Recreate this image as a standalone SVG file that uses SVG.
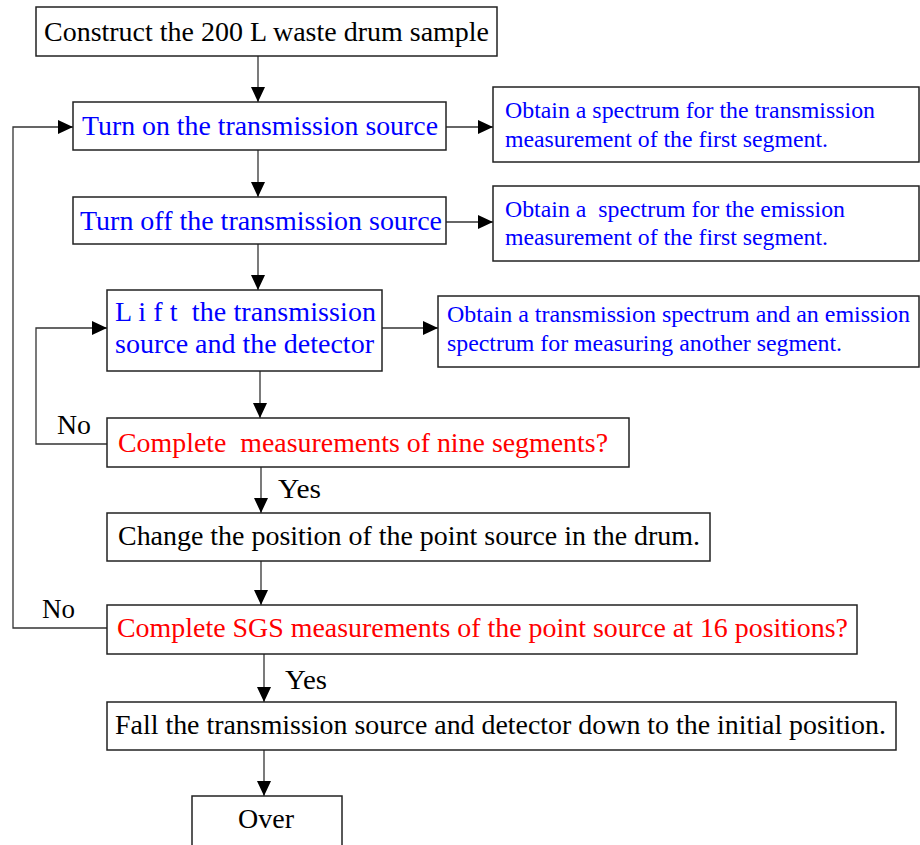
<svg xmlns="http://www.w3.org/2000/svg" width="920" height="845" viewBox="0 0 920 845">
<style>
.box{fill:#fff;stroke:#222;stroke-width:1.5}
.t{font-family:"Liberation Serif","Times New Roman",serif}
.blk{fill:#000}
.blu{fill:#0000ff}
.red{fill:#ff0000}
.c{fill:none;stroke:#333;stroke-width:1.3}
</style>
<defs>
<marker id="ah" markerUnits="userSpaceOnUse" markerWidth="15" markerHeight="14" refX="15" refY="7" orient="auto">
<path d="M0,0 L15,7 L0,14 z" fill="#000"/>
</marker>
</defs>
<rect width="920" height="845" fill="#fff"/>
<g id="connectors">
<path class="c" d="M258,56 V102" marker-end="url(#ah)"/>
<path class="c" d="M258,150 V197" marker-end="url(#ah)"/>
<path class="c" d="M258,244 V290" marker-end="url(#ah)"/>
<path class="c" d="M446,127 H493" marker-end="url(#ah)"/>
<path class="c" d="M446,222 H493" marker-end="url(#ah)"/>
<path class="c" d="M382,328 H438" marker-end="url(#ah)"/>
<path class="c" d="M260,371 V418" marker-end="url(#ah)"/>
<path class="c" d="M107,444 H36 V328 H107" marker-end="url(#ah)"/>
<path class="c" d="M261,467 V513" marker-end="url(#ah)"/>
<path class="c" d="M261,561 V605" marker-end="url(#ah)"/>
<path class="c" d="M107,628 H13 V127 H73" marker-end="url(#ah)"/>
<path class="c" d="M264,654 V702" marker-end="url(#ah)"/>
<path class="c" d="M264,750 V796" marker-end="url(#ah)"/>
<text class="t blk" x="57" y="434" font-size="27" textLength="34" lengthAdjust="spacingAndGlyphs">No</text>
<text class="t blk" x="42" y="618" font-size="27" textLength="33" lengthAdjust="spacingAndGlyphs">No</text>
<text class="t blk" x="278" y="498" font-size="27" textLength="43" lengthAdjust="spacingAndGlyphs">Yes</text>
<text class="t blk" x="285" y="689" font-size="27" textLength="42" lengthAdjust="spacingAndGlyphs">Yes</text>
</g>
<g id="n1">
<rect class="box" x="36" y="7" width="461" height="49"/>
<text class="t blk" x="44" y="41" font-size="28" textLength="445" lengthAdjust="spacingAndGlyphs">Construct the 200 L waste drum sample</text>
</g>
<g id="n2">
<rect class="box" x="73" y="102" width="373" height="48"/>
<text class="t blu" x="82" y="135" font-size="28" textLength="356" lengthAdjust="spacingAndGlyphs">Turn on the transmission source</text>
</g>
<g id="n3">
<rect class="box" x="493" y="87" width="426" height="75"/>
<text class="t blu" x="505" y="118" font-size="23.5" textLength="370" lengthAdjust="spacingAndGlyphs">Obtain a spectrum for the transmission</text>
<text class="t blu" x="505" y="147" font-size="23.5" textLength="323" lengthAdjust="spacingAndGlyphs">measurement of the first segment.</text>
</g>
<g id="n4">
<rect class="box" x="73" y="197" width="373" height="47"/>
<text class="t blu" x="80" y="230" font-size="28" textLength="362" lengthAdjust="spacingAndGlyphs">Turn off the transmission source</text>
</g>
<g id="n5">
<rect class="box" x="493" y="186" width="426" height="75"/>
<text class="t blu" x="505" y="217" font-size="23.5" textLength="340" lengthAdjust="spacingAndGlyphs" xml:space="preserve">Obtain a  spectrum for the emission</text>
<text class="t blu" x="505" y="245" font-size="23.5" textLength="323" lengthAdjust="spacingAndGlyphs">measurement of the first segment.</text>
</g>
<g id="n6">
<rect class="box" x="107" y="290" width="275" height="81"/>
<text class="t blu" x="115" y="321" font-size="28" textLength="261" lengthAdjust="spacing" xml:space="preserve">L i f t  the transmission</text>
<text class="t blu" x="115" y="353" font-size="28" textLength="259" lengthAdjust="spacingAndGlyphs">source and the detector</text>
</g>
<g id="n7">
<rect class="box" x="438" y="296" width="481" height="71"/>
<text class="t blu" x="447" y="322" font-size="23.5" textLength="463" lengthAdjust="spacingAndGlyphs">Obtain a transmission spectrum and an emission</text>
<text class="t blu" x="447" y="351" font-size="23.5" textLength="395" lengthAdjust="spacingAndGlyphs">spectrum for measuring another segment.</text>
</g>
<g id="n8">
<rect class="box" x="107" y="418" width="522" height="49"/>
<text class="t red" x="118" y="452" font-size="28" textLength="490" lengthAdjust="spacingAndGlyphs" xml:space="preserve">Complete  measurements of nine segments?</text>
</g>
<g id="n9">
<rect class="box" x="107" y="513" width="603" height="48"/>
<text class="t blk" x="118" y="545" font-size="28" textLength="582" lengthAdjust="spacingAndGlyphs">Change the position of the point source in the drum.</text>
</g>
<g id="n10">
<rect class="box" x="107" y="605" width="750" height="49"/>
<text class="t red" x="117" y="637" font-size="28" textLength="731" lengthAdjust="spacingAndGlyphs">Complete SGS measurements of the point source at 16 positions?</text>
</g>
<g id="n11">
<rect class="box" x="107" y="702" width="789" height="48"/>
<text class="t blk" x="115" y="734" font-size="28" textLength="771" lengthAdjust="spacingAndGlyphs">Fall the transmission source and detector down to the initial position.</text>
</g>
<g id="n12">
<rect class="box" x="192" y="796" width="150" height="70"/>
<text class="t blk" x="238" y="828" font-size="27" textLength="56" lengthAdjust="spacingAndGlyphs">Over</text>
</g>
</svg>
